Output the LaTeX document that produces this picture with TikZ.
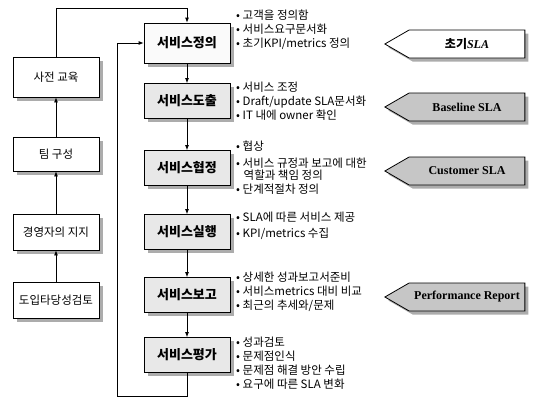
\documentclass[tikz,border=0pt]{standalone}
\usepackage{fontspec}
\newfontfamily\cjk{Noto Sans CJK KR}
\newfontfamily\serifen{Liberation Serif}
\usetikzlibrary{shadows,shapes.symbols,arrows.meta}
\begin{document}
\begin{tikzpicture}[x=1pt,y=-1pt,
  arr/.style={-{Latex[length=5pt,width=4pt]}, line width=0.8pt},
  shad/.style={drop shadow={shadow xshift=3.5pt,shadow yshift=-3.5pt,fill=gray!65,opacity=1}},
  leftbox/.style={draw, line width=0.8pt, fill=white, minimum width=86pt, minimum height=36pt, inner sep=1pt, font=\cjk\fontsize{11.5}{13}\selectfont, shad},
  mainbox/.style={draw, line width=0.8pt, fill=gray!18, minimum width=86pt, minimum height=35pt, inner sep=1pt, font=\cjk\bfseries\fontsize{13}{15}\selectfont, shad},
  bullets/.style={anchor=west, align=left, inner sep=0pt, font=\cjk\fontsize{11.5}{14}\selectfont},
  tag/.style={signal, signal to=west, signal from=nowhere, signal pointer angle=60, draw, line width=0.8pt, minimum width=140pt, minimum height=28pt, inner sep=1pt, font=\serifen\bfseries\fontsize{12}{14}\selectfont, shad}
]
\useasboundingbox (0,0) rectangle (546,399);

% left column
\node[leftbox, minimum height=40pt] (l1) at (56,77) {사전 교육};
\node[leftbox, minimum height=34pt] (l2) at (56,154) {팀 구성};
\node[leftbox] (l3) at (56,232) {경영자의 지지};
\node[leftbox] (l4) at (56,300) {도입타당성검토};

% main column
\node[mainbox, fill=gray!4, minimum height=40pt] (m1) at (187,43) {서비스정의};
\node[mainbox] (m2) at (187,101) {서비스도출};
\node[mainbox] (m3) at (187,168) {서비스협정};
\node[mainbox] (m4) at (187,232) {서비스실행};
\node[mainbox] (m5) at (187,295) {서비스보고};
\node[mainbox] (m6) at (187,355) {서비스평가};

% bullet lists
\node[bullets] (b1) at (236,30) {• 고객을 정의함\\• 서비스요구문서화\\• 초기KPI/metrics 정의};
\node[bullets] (b2) at (236,101) {• 서비스 조정\\• Draft/update SLA문서화\\• IT 내에 owner 확인};
\node[bullets] (b3) at (236,168) {• 협상\\[3pt]• 서비스 규정과 보고에 대한\\[-2pt]\hspace*{0.65em}역할과 책임 정의\\• 단계적절차 정의};
\node[bullets, font=\cjk\fontsize{11.5}{16}\selectfont] (b4) at (236,226) {• SLA에 따른 서비스 제공\\• KPI/metrics 수집};
\node[bullets] (b5) at (236,292) {• 상세한 성과보고서준비\\• 서비스metrics 대비 비교\\• 최근의 추세와/문제};
\node[bullets] (b6) at (236,363) {• 성과검토\\• 문제점인식\\• 문제점 해결 방안 수립\\• 요구에 따른 SLA 변화};

% tags
\node[tag, fill=white, font=\serifen\bfseries\itshape\fontsize{12}{14}\selectfont] (p1) at (467,44) {{\cjk\bfseries 초기}SLA};
\node[tag, fill=gray!45] (p2) at (467,107) {Baseline SLA};
\node[tag, fill=gray!45] (p3) at (467,171) {Customer SLA};
\node[tag, fill=gray!45] (p4) at (467,297) {Performance Report};

% connectors
\draw[arr] (l4) -- (l3);
\draw[arr] (l3) -- (l2);
\draw[arr] (l2) -- (l1);
\coordinate (tp) at (187,8);
\draw[arr] (l1.north) -- (l1.north |- tp) -- (tp) -- (m1.north);
\draw[arr] (m1) -- (m2);
\draw[arr] (m2) -- (m3);
\draw[arr] (m3) -- (m4);
\draw[arr] (m4) -- (m5);
\draw[arr] (m5) -- (m6);
\coordinate (lb) at (117,396);
\draw[arr] (m6.south) |- (lb) |- (m1.west);
\end{tikzpicture}
\end{document}
